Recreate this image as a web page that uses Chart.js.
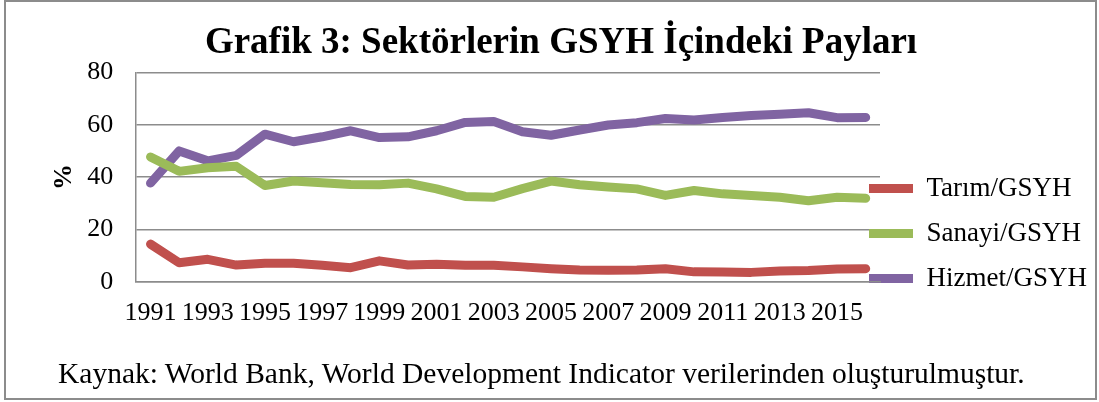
<!DOCTYPE html>
<html>
<head>
<meta charset="utf-8">
<script src="https://cdn.jsdelivr.net/npm/chart.js@4.4.1/dist/chart.umd.min.js"></script>
<style>
  html, body { margin: 0; padding: 0; background: #fff; }
  #wrap { position: relative; width: 1099px; height: 402px; overflow: hidden; }
  #c { position: absolute; left: 0; top: 0; }
  #frame { position: absolute; left: 4px; top: 0px; width: 1089px; height: 396px; border: 2px solid #8c8c8c; pointer-events: none; }
  #note { position: absolute; left: 58px; top: 357px; font-family: "Liberation Serif", "Times New Roman", serif; font-size: 29.5px; color: #000; white-space: nowrap; }
</style>
</head>
<body>
<div id="wrap">
  <canvas id="c" width="1099" height="402"></canvas>
  <div id="frame"></div>
  <div id="note">Kaynak: World Bank, World Development Indicator verilerinden oluşturulmuştur.</div>
</div>
<script>
const years = ['1991','1992','1993','1994','1995','1996','1997','1998','1999','2000','2001','2002','2003',
               '2004','2005','2006','2007','2008','2009','2010','2011','2012','2013','2014','2015','2016'];
const xTickLabels = ['1991','','1993','','1995','','1997','','1999','','2001','','2003',
                     '','2005','','2007','','2009','','2011','','2013','','2015',''];
const yTicks = [0, 20, 40, 60, 80];
const seriesNames = ['Tarım/GSYH', 'Sanayi/GSYH', 'Hizmet/GSYH'];
const tarim  = [14.4, 7.3, 8.6, 6.4, 7.1, 7.1, 6.3, 5.4, 8.0, 6.4, 6.7, 6.3, 6.3,
                5.7, 5.0, 4.5, 4.4, 4.5, 5.0, 3.8, 3.7, 3.6, 4.1, 4.3, 4.9, 5.0];
const sanayi = [47.7, 42.2, 43.6, 44.1, 36.8, 38.5, 37.8, 37.2, 37.1, 37.7, 35.5, 32.6, 32.3,
                35.6, 38.5, 37.1, 36.2, 35.5, 33.0, 34.9, 33.6, 33.0, 32.3, 31.0, 32.3, 31.9];
const hizmet = [37.7, 50.0, 46.2, 48.3, 56.4, 53.5, 55.4, 57.7, 55.1, 55.4, 57.7, 60.9, 61.2,
                57.3, 56.0, 58.0, 59.9, 60.8, 62.4, 61.8, 62.8, 63.5, 64.0, 64.6, 62.7, 62.8];

const FONT = '"Liberation Serif", "Times New Roman", serif';
const colors = ['#C0504D', '#9BBB59', '#8064A2'];

function ds(label, data, color) {
  return {
    label, data,
    borderColor: color, backgroundColor: color,
    borderWidth: 9, borderCapStyle: 'round', borderJoinStyle: 'round',
    pointRadius: 0, pointHoverRadius: 0, tension: 0, fill: false
  };
}

const legendPlace = {
  id: 'legendPlace',
  afterLayout(chart) {
    const lg = chart.legend;
    if (!lg) return;
    const h = lg.height;
    lg.left = 851; lg.right = 1099;
    lg.width = lg.right - lg.left;
    lg.top = 157; lg.bottom = 157 + h;
  }
};

new Chart(document.getElementById('c'), {
  type: 'line',
  data: {
    labels: years,
    datasets: [
      ds(seriesNames[0], tarim, colors[0]),
      ds(seriesNames[1], sanayi, colors[1]),
      ds(seriesNames[2], hizmet, colors[2])
    ]
  },
  options: {
    responsive: false,
    animation: false,
    devicePixelRatio: 1,
    layout: { padding: { left: 23, right: 0, top: 0, bottom: 57 } },
    plugins: {
      title: {
        display: true,
        text: 'Grafik 3: Sektörlerin GSYH İçindeki Payları',
        color: '#000',
        font: { family: FONT, size: 37, weight: 'bold' },
        padding: { top: 21, bottom: 7 }
      },
      legend: {
        display: true,
        position: 'right',
        align: 'start',
        maxWidth: 219,
        labels: {
          color: '#000',
          font: { family: FONT, size: 27 },
          usePointStyle: true,
          pointStyle: 'line',
          pointStyleWidth: 44,
          padding: 18
        }
      },
      tooltip: { enabled: false }
    },
    scales: {
      x: {
        type: 'category',
        offset: true,
        grid: { display: false, drawTicks: false },
        border: { display: true, color: '#8c8c8c', width: 1.5 },
        ticks: {
          autoSkip: false, maxRotation: 0, minRotation: 0,
          color: '#000', padding: 16,
          font: { family: FONT, size: 26 },
          callback: (v, i) => xTickLabels[i]
        }
      },
      y: {
        min: 0, max: 80,
        afterBuildTicks: (axis) => { axis.ticks = yTicks.map(v => ({ value: v })); },
        grid: { color: '#8c8c8c', lineWidth: 1.5, drawTicks: true, tickLength: 20, tickColor: 'rgba(0,0,0,0)' },
        border: { display: true, color: '#8c8c8c', width: 1.5 },
        ticks: {
          color: '#000', padding: 3,
          font: { family: FONT, size: 26 }
        },
        title: {
          display: true, text: '%', color: '#000',
          font: { family: FONT, size: 26, weight: 'bold' },
          padding: { top: 26, bottom: 4 }
        }
      }
    }
  },
  plugins: [legendPlace]
});
</script>
</body>
</html>
